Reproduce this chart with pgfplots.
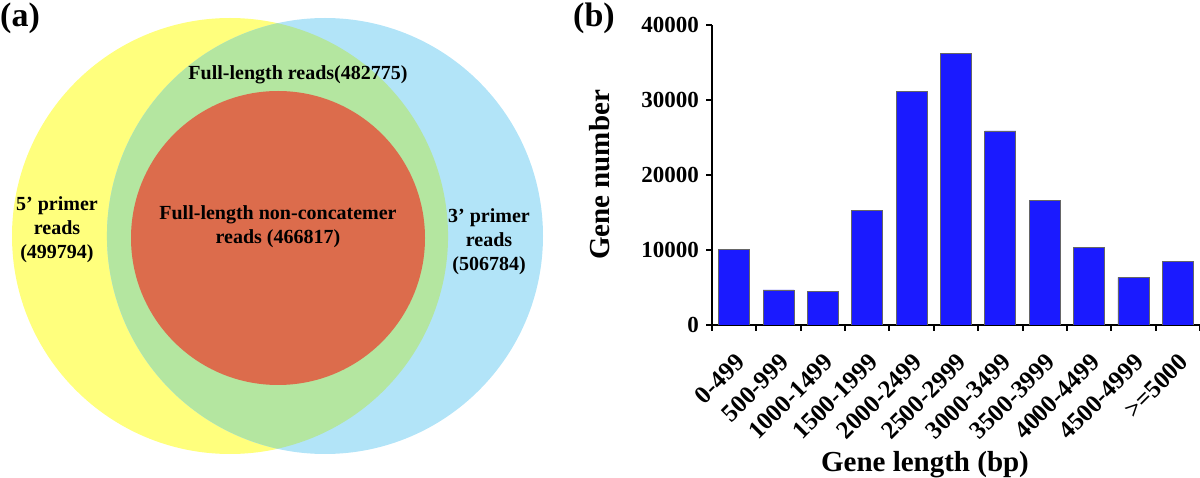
\documentclass[border=0pt]{standalone}
\usepackage{fontspec}
\setmainfont{Liberation Serif}
\usepackage{pgfplots}
\pgfplotsset{compat=1.18}
\definecolor{vyellow}{RGB}{255,255,125}
\definecolor{vblue}{RGB}{178,228,248}
\definecolor{vgreen}{RGB}{180,230,160}
\definecolor{vred}{RGB}{220,108,76}
\definecolor{barblue}{RGB}{26,26,255}
\begin{document}
\begin{tikzpicture}
\useasboundingbox (0,0) rectangle (600pt,238.5pt);
% ---------------- panel (a): Venn diagram ----------------
\begin{axis}[at={(0pt,0pt)}, anchor=south west, scale only axis,
  width=280pt, height=238.5pt, xmin=0, xmax=560, ymin=0, ymax=477,
  hide axis, clip=false]
\fill[vyellow] (axis cs:230,241) circle[radius=109pt];
\fill[vblue] (axis cs:325,241) circle[radius=109pt];
\fill[vgreen] (axis cs:277.5,453.8) arc[start angle=102.58, end angle=257.42, radius=109pt]
   arc[start angle=-77.42, end angle=77.42, radius=109pt] -- cycle;
\fill[vred] (axis cs:278,239) circle[radius=73.5pt];
\node[font=\bfseries\fontsize{10}{12}\selectfont] at (axis cs:298,402) {Full-length reads(482775)};
\node[font=\bfseries\fontsize{10}{12}\selectfont, align=center] at (axis cs:278,250) {Full-length non-concatemer\\reads (466817)};
\node[font=\bfseries\fontsize{10}{12}\selectfont, align=center] at (axis cs:57,247) {5’ primer\\reads\\(499794)};
\node[font=\bfseries\fontsize{10}{12}\selectfont, align=center] at (axis cs:489,235) {3’ primer\\reads\\(506784)};
\end{axis}
% ---------------- panel (b): bar chart ----------------
\begin{axis}[at={(356pt,76pt)}, anchor=south west, scale only axis,
  width=244pt, height=150pt,
  xmin=-0.5, xmax=10.5, ymin=0, ymax=40000,
  axis x line=bottom, axis y line=left, axis line style={-, line width=1pt},
  ybar, bar width=0.7,
  xtick={-0.5,0.5,1.5,2.5,3.5,4.5,5.5,6.5,7.5,8.5,9.5,10.5},
  x tick label as interval,
  xticklabels={0-499,500-999,1000-1499,1500-1999,2000-2499,2500-2999,3000-3499,3500-3999,4000-4499,4500-4999,>=5000},
  xticklabel style={rotate=45, anchor=north east, inner sep=1pt, font=\bfseries\fontsize{12.5}{14}\selectfont},
  xticklabel shift=9pt,
  ytick={0,10000,20000,30000,40000},
  tick align=outside, major tick length=3pt, tick style={line width=1pt, black},
  yticklabel style={font=\bfseries\fontsize{11.5}{13}\selectfont},
  /pgf/number format/assume math mode=true, /pgf/number format/1000 sep={},
  scaled y ticks=false,
  xlabel={Gene length (bp)}, ylabel={Gene number},
  label style={font=\bfseries\fontsize{14.5}{17}\selectfont},
  xlabel style={at={(axis description cs:0.4365,-0.4667)}, anchor=center},
  ylabel style={at={(axis description cs:-0.2295,0.5)}, anchor=center},
]
\addplot[ybar, fill=barblue, draw=black!60, line width=0.4pt] coordinates {
(0,10130) (1,4670) (2,4440) (3,15240) (4,31110) (5,36220)
(6,25870) (7,16620) (8,10310) (9,6360) (10,8490)};
\end{axis}
\node[font=\bfseries\fontsize{17}{20}\selectfont] at (10pt,229.5pt) {(a)};
\node[font=\bfseries\fontsize{17}{20}\selectfont] at (297pt,229.5pt) {(b)};
\end{tikzpicture}
\end{document}
